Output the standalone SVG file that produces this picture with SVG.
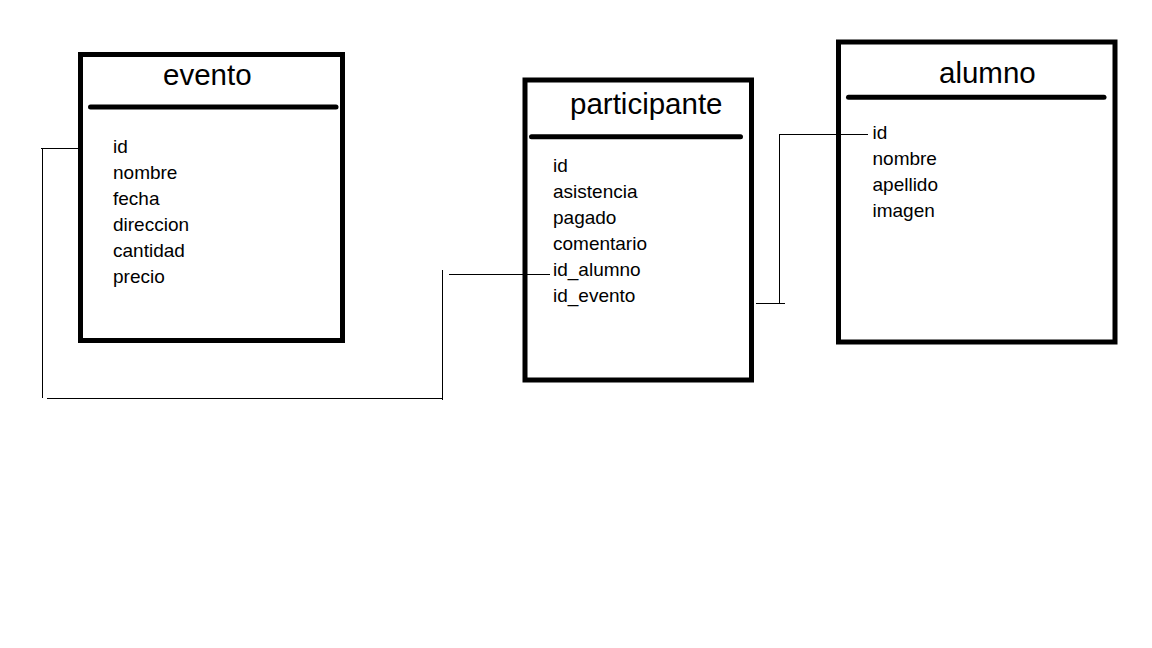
<svg xmlns="http://www.w3.org/2000/svg" width="1152" height="648" viewBox="0 0 1152 648">
<style>
.box{fill:none;stroke:#000;stroke-width:5}
.hdr{stroke:#000;stroke-width:5;stroke-linecap:round}
.title{font-family:"Liberation Sans",Arial,sans-serif;font-size:29.5px;fill:#000}
.field{font-family:"Liberation Sans",Arial,sans-serif;font-size:19px;fill:#000}
.conn line{stroke:#000;stroke-width:1}
</style>
<rect width="1152" height="648" fill="#fff"/>
<g id="evento">
<rect class="box" x="80.5" y="54.5" width="262" height="286"/>
<line class="hdr" x1="90.5" y1="107" x2="336" y2="107"/>
<text class="title" x="163" y="85">evento</text>
<text class="field" x="113" y="153">id</text>
<text class="field" x="113" y="179">nombre</text>
<text class="field" x="113" y="205">fecha</text>
<text class="field" x="113" y="231">direccion</text>
<text class="field" x="113" y="257">cantidad</text>
<text class="field" x="113" y="283">precio</text>
</g>
<g id="participante">
<rect class="box" x="525" y="80" width="226.5" height="300"/>
<line class="hdr" x1="531.5" y1="136.7" x2="740.5" y2="136.7"/>
<text class="title" x="570" y="114">participante</text>
<text class="field" x="553" y="172">id</text>
<text class="field" x="553" y="198">asistencia</text>
<text class="field" x="553" y="224">pagado</text>
<text class="field" x="553" y="250">comentario</text>
<text class="field" x="553" y="276">id_alumno</text>
<text class="field" x="553" y="302">id_evento</text>
</g>
<g id="alumno">
<rect class="box" x="838.5" y="42" width="276.5" height="300"/>
<line class="hdr" x1="848.5" y1="97.3" x2="1104" y2="97.3"/>
<text class="title" x="939" y="83">alumno</text>
<text class="field" x="872.5" y="139">id</text>
<text class="field" x="872.5" y="165">nombre</text>
<text class="field" x="872.5" y="191">apellido</text>
<text class="field" x="872.5" y="217">imagen</text>
</g>
<g id="connectors" class="conn">
<line x1="41" y1="148.5" x2="79" y2="148.5"/>
<line x1="42.5" y1="148" x2="42.5" y2="398"/>
<line x1="47" y1="398.5" x2="442" y2="398.5"/>
<line x1="442.5" y1="270" x2="442.5" y2="400"/>
<line x1="449" y1="274.5" x2="550" y2="274.5"/>
<line x1="756" y1="303.5" x2="785" y2="303.5"/>
<line x1="779.5" y1="134" x2="779.5" y2="303"/>
<line x1="779" y1="134.5" x2="868" y2="134.5"/>
</g>
</svg>
